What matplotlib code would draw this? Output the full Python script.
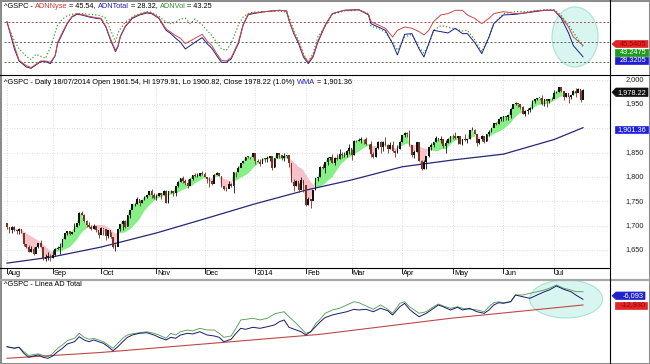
import matplotlib
matplotlib.use("Agg")
import matplotlib.pyplot as plt
from matplotlib.patches import Ellipse, Polygon, Rectangle
from matplotlib.lines import Line2D
import numpy as np
import pandas as pd

W, H = 650, 364
FONT = "Liberation Sans"
FS = 5.3

# ---- S&P 500 daily bars, 06/08/2013 .. 18/07/2014 ----
closes = [
    1697.37, 1690.91, 1697.48, 1691.42, 1689.47, 1694.16, 1685.39, 1661.32, 1655.83, 1646.06,
    1652.35, 1642.80, 1656.96, 1663.50, 1656.78, 1630.48, 1634.96, 1638.17, 1632.97,
    1639.77, 1653.08, 1655.08, 1655.17, 1671.71, 1683.99, 1689.13, 1683.42, 1687.99, 1697.60,
    1704.76, 1725.52, 1722.34, 1709.91, 1701.84, 1697.42, 1692.77, 1698.67, 1691.75, 1681.55,
    1695.00, 1693.87, 1678.66, 1690.50, 1676.12, 1655.45, 1656.40, 1692.56, 1703.20, 1710.14,
    1698.06, 1721.54, 1733.15, 1744.50, 1744.66, 1754.67, 1746.38, 1752.07, 1759.77, 1762.11,
    1771.95, 1763.31, 1756.54,
    1761.64, 1767.93, 1762.97, 1770.49, 1747.15, 1770.61, 1771.89, 1767.69, 1782.00, 1790.62,
    1798.18, 1791.53, 1787.87, 1781.37, 1795.85, 1804.76, 1802.48, 1802.75, 1807.23, 1805.81,
    1800.90, 1795.15, 1792.81, 1785.03, 1805.09, 1808.37, 1802.62, 1782.22, 1775.50, 1775.32,
    1786.54, 1781.00, 1810.65, 1809.60, 1818.32, 1827.99, 1833.32, 1842.02, 1841.40, 1841.07, 1848.36,
    1831.98, 1831.37, 1826.77, 1837.88, 1837.49, 1838.13, 1842.37, 1819.20, 1838.88, 1848.38,
    1845.89, 1838.70, 1843.80, 1844.86, 1828.46, 1790.29, 1781.56, 1792.50, 1774.20, 1794.19, 1782.59,
    1741.89, 1755.20, 1751.64, 1773.43, 1797.02, 1799.84, 1819.75, 1819.26, 1829.83, 1838.63,
    1840.76, 1828.75, 1839.78, 1836.25, 1847.61, 1845.12, 1845.16, 1854.29, 1859.45,
    1845.73, 1873.91, 1873.81, 1877.03, 1878.04, 1877.17, 1867.63, 1868.20, 1846.34, 1841.13,
    1858.83, 1872.25, 1860.77, 1872.01, 1866.52, 1857.44, 1865.62, 1852.56, 1849.04, 1857.62, 1872.34,
    1885.52, 1890.90, 1888.77, 1865.09, 1845.04, 1851.96, 1872.18, 1833.08, 1815.69, 1830.61,
    1842.98, 1862.31, 1864.85, 1871.89, 1879.55, 1875.39, 1878.61, 1863.40, 1869.43, 1878.33, 1883.95,
    1883.68, 1881.14, 1884.66, 1867.72, 1878.21, 1875.63, 1878.48, 1896.65, 1897.45, 1888.53,
    1870.85, 1877.86, 1885.08, 1872.83, 1888.03, 1892.49, 1900.53, 1911.91, 1909.78, 1920.03, 1923.57,
    1924.97, 1924.24, 1927.88, 1940.46, 1949.44, 1951.27, 1950.79, 1943.89, 1930.11, 1936.16,
    1937.78, 1941.99, 1956.98, 1959.48, 1962.87, 1962.61, 1949.98, 1959.53, 1957.22, 1960.96, 1960.23,
    1973.32, 1974.62, 1985.44, 1977.65, 1963.71, 1972.83, 1964.68, 1967.57, 1977.10, 1973.28,
    1981.57, 1958.12, 1978.22,
]
highs = [
    1706, 1696, 1700, 1699, 1691, 1696, 1693, 1679, 1663, 1660,
    1658, 1657, 1659, 1664, 1670, 1652, 1641, 1646, 1641,
    1651, 1655, 1659, 1664, 1672, 1684, 1689, 1689, 1688, 1705,
    1705, 1729, 1730, 1725, 1711, 1708, 1701, 1703, 1697, 1688,
    1697, 1694, 1693, 1691, 1687, 1676, 1662, 1693, 1703, 1711,
    1711, 1721, 1733, 1745, 1747, 1759, 1752, 1753, 1760, 1764,
    1772, 1775, 1768,
    1766, 1768, 1767, 1774, 1774, 1771, 1774, 1772, 1782, 1791,
    1798, 1802, 1795, 1795, 1797, 1805, 1808, 1808, 1808, 1813,
    1811, 1800, 1800, 1793, 1806, 1811, 1808, 1803, 1782, 1780,
    1792, 1788, 1811, 1810, 1823, 1829, 1833, 1842, 1844, 1842, 1849,
    1845, 1838, 1837, 1840, 1840, 1843, 1843, 1843, 1839, 1850,
    1847, 1846, 1849, 1846, 1842, 1826, 1795, 1794, 1788, 1799, 1793,
    1784, 1758, 1755, 1774, 1798, 1800, 1823, 1826, 1830, 1841,
    1842, 1847, 1842, 1847, 1858, 1852, 1852, 1855, 1867,
    1857, 1877, 1876, 1881, 1883, 1878, 1882, 1868, 1874, 1852,
    1862, 1873, 1874, 1873, 1883, 1867, 1871, 1875, 1855, 1866, 1873,
    1886, 1893, 1893, 1897, 1864, 1855, 1872, 1872, 1835, 1834,
    1844, 1862, 1869, 1872, 1884, 1879, 1884, 1877, 1877, 1880, 1884,
    1888, 1892, 1885, 1884, 1879, 1889, 1879, 1897, 1903, 1898,
    1888, 1878, 1886, 1884, 1888, 1896, 1901, 1912, 1914, 1920, 1924,
    1925, 1925, 1928, 1941, 1950, 1955, 1951, 1950, 1945, 1938,
    1941, 1944, 1958, 1960, 1963, 1963, 1968, 1960, 1959, 1961, 1964,
    1978, 1976, 1985, 1984, 1976, 1973, 1967, 1968, 1979, 1982,
    1983, 1979, 1979.91,
]
lows = [
    1693, 1684, 1684, 1689, 1683, 1682, 1685, 1658, 1655, 1646,
    1646, 1640, 1645, 1654, 1656, 1630, 1627, 1630, 1627,
    1633, 1637, 1653, 1641, 1656, 1673, 1681, 1681, 1682, 1693,
    1697, 1701, 1721, 1708, 1697, 1695, 1691, 1693, 1688, 1674,
    1682, 1680, 1670, 1675, 1675, 1655, 1647, 1660, 1689, 1692,
    1695, 1700, 1716, 1734, 1740, 1745, 1740, 1746, 1752, 1757,
    1764, 1757, 1755,
    1752, 1761, 1755, 1764, 1747, 1746, 1767, 1761, 1760, 1780,
    1790, 1788, 1784, 1778, 1784, 1794, 1800, 1800, 1802, 1805,
    1799, 1787, 1779, 1783, 1788, 1806, 1802, 1780, 1773, 1772,
    1777, 1779, 1767, 1801, 1810, 1822, 1828, 1834, 1839, 1838, 1842,
    1827, 1830, 1823, 1828, 1831, 1830, 1832, 1815, 1820, 1839,
    1840, 1835, 1832, 1840, 1820, 1790, 1772, 1782, 1770, 1777, 1770,
    1740, 1743, 1737, 1753, 1774, 1791, 1800, 1816, 1809, 1825,
    1835, 1828, 1825, 1835, 1836, 1840, 1841, 1841, 1847,
    1834, 1846, 1871, 1874, 1870, 1867, 1866, 1858, 1841, 1839,
    1842, 1858, 1850, 1854, 1863, 1849, 1858, 1852, 1842, 1849, 1858,
    1872, 1883, 1883, 1863, 1841, 1839, 1852, 1833, 1814, 1816,
    1816, 1842, 1856, 1861, 1872, 1875, 1870, 1859, 1850, 1870, 1872,
    1878, 1879, 1867, 1867, 1866, 1873, 1869, 1879, 1896, 1888,
    1863, 1867, 1873, 1869, 1875, 1885, 1893, 1902, 1907, 1909, 1916,
    1915, 1918, 1918, 1922, 1941, 1948, 1944, 1939, 1929, 1925,
    1930, 1933, 1940, 1952, 1959, 1958, 1948, 1946, 1944, 1952, 1958,
    1962, 1972, 1975, 1974, 1959, 1965, 1952, 1960, 1969, 1965,
    1976, 1955, 1960.82,
]
first_open = 1706.10
ma_len = 12   # average the shaded band is drawn against

month_labels = ["Aug", "Sep", "Oct", "Nov", "Dec", "2014", "Feb", "Mar", "Apr", "May", "Jun", "Jul"]
month_idx = [0, 19, 39, 62, 82, 103, 124, 143, 164, 185, 206, 227]
grid_prices = [2000, 1950, 1900, 1850, 1800, 1750, 1700, 1650]
label_prices = [2000, 1950, 1850, 1800, 1750, 1700, 1650]

# WMA line
wma_idx = [0, 19, 39, 62, 82, 103, 124, 143, 164, 185, 206, 227, 239]
wma_val = [1623, 1636, 1656, 1685, 1714, 1745, 1773, 1794, 1821, 1835, 1847, 1877, 1901.36]

# ---- oscillators (top panel) ----
osc_idx = [0, 3, 5, 8, 10, 12, 14, 16, 18, 20, 21, 23, 25, 27, 29, 31, 34, 37, 39, 41,
           43, 45, 46, 47, 49, 52, 55, 58, 60, 63, 66, 68, 70, 72, 74, 76, 78, 81, 83, 85,
           87, 89, 91, 93, 96, 98, 100, 102, 107, 113, 116, 117, 119, 121, 123, 125, 127, 129, 132, 135,
           140, 146, 150, 151, 154, 157, 160, 162, 165, 168, 171, 173, 175, 177, 180, 183, 186, 189, 191, 194,
           197, 200, 202, 206, 211, 215, 219, 223, 227, 230, 233, 235, 239]
adn_nyse = [80, 45, 23, 15, 12, 17, 22, 22, 20, 30, 50, 65, 79, 89, 93, 92, 89, 87, 86, 74,
            55, 38, 44, 59, 74, 87, 92, 95, 94, 87, 70, 65, 60, 56, 48, 52, 56, 62, 52, 45,
            33, 23, 22, 27, 50, 77, 92, 94, 96, 98, 97, 84, 64, 50, 30, 20, 30, 52, 76, 93,
            98, 99, 92, 81, 76, 71, 58, 68, 73, 71, 66, 61, 68, 81, 91, 93, 98, 98, 91, 86,
            78, 86, 93, 96, 93, 94, 97, 98, 98, 88, 73, 58, 45.54]
adn_total = [81, 41, 22, 13, 11, 16, 21, 21, 18, 30, 48, 63, 78, 88, 92, 91, 88, 86, 85, 73,
             53, 36, 43, 58, 73, 86, 91, 94, 93, 86, 68, 63, 56, 50, 40, 45, 50, 57, 48, 41,
             30, 20, 20, 25, 48, 76, 91, 93, 96, 98, 97, 83, 63, 48, 28, 18, 28, 50, 75, 93,
             98, 99, 91, 78, 73, 68, 48, 31, 62, 63, 40, 28, 48, 68, 66, 64, 71, 63, 63, 50,
             33, 58, 78, 91, 92, 94, 96, 98, 98, 86, 64, 45, 28.32]
adn_vol = [78, 53, 40, 29, 24, 32, 29, 26, 42, 65, 76, 85, 90, 92, 93, 93, 92, 91, 90, 86,
           68, 51, 63, 70, 80, 88, 93, 96, 95, 89, 80, 78, 80, 85, 86, 78, 85, 76, 68, 60,
           50, 40, 38, 48, 76, 88, 93, 95, 96, 97, 95, 88, 68, 53, 33, 21, 33, 58, 74, 92,
           97, 98, 93, 74, 71, 65, 50, 38, 58, 62, 42, 34, 46, 68, 75, 73, 70, 67, 68, 54,
           36, 58, 78, 93, 96, 96, 97, 99, 99, 90, 76, 65, 43.25]

# ---- AD lines (bottom panel), thousands ----
ad_idx = [0, 3, 5, 7, 9, 11, 13, 15, 17, 19, 21, 23, 25, 28, 30, 32, 34, 36, 38, 40,
          42, 44, 46, 48, 50, 52, 55, 58, 61, 63, 66, 68, 70, 72, 75, 77, 80, 83, 86, 88,
          90, 93, 95, 97, 99, 102, 105, 108, 111, 113, 115, 117, 120, 122, 124, 126, 128, 130, 132, 135,
          138, 141, 144, 146, 149, 152, 155, 158, 160, 163, 165, 167, 169, 171, 174, 177, 179, 181, 184, 187,
          189, 192, 195, 198, 200, 202, 204, 206, 209, 211, 214, 217, 220, 223, 225, 228, 231, 234, 236, 239]
ad_total = [-63.0, -64.9, -63.7, -70.9, -75.7, -74.1, -72.9, -75.7, -76.9, -74.1,
            -69.0, -64.9, -59.7, -57.0, -51.0, -54.9, -57.0, -54.9, -57.0, -58.9,
            -63.0, -67.8, -63.0, -57.0, -51.7, -48.9, -46.9, -46.2, -48.9, -51.7,
            -54.9, -51.7, -52.9, -48.9, -46.9, -47.7, -45.0, -48.9, -50.1, -51.7,
            -57.0, -54.1, -46.9, -40.9, -42.1, -39.7, -40.9, -39.0, -36.9, -33.0,
            -30.9, -39.7, -42.9, -45.0, -48.9, -45.0, -39.0, -33.0, -28.0, -24.9,
            -22.9, -21.0, -18.1, -18.9, -18.1, -21.0, -16.9, -19.8, -24.9, -15.0,
            -10.9, -18.1, -22.9, -27.0, -22.9, -16.9, -12.9, -15.0, -18.9, -15.7,
            -18.9, -16.9, -21.0, -22.9, -18.9, -12.9, -10.2, -10.9, -9.0, -0.9,
            -3.0, -4.9, -0.9, 3.0, 5.1, 9.9, 5.9, 3.0, -0.9, -6.093]
ad_vol = [-63.0, -64.5, -63.5, -69.0, -73.5, -72.5, -71.5, -73.5, -75.0, -71.0,
          -64.9, -60.9, -55.8, -52.9, -46.9, -51.7, -54.1, -53.0, -54.9, -57.0,
          -60.9, -64.9, -58.9, -52.9, -48.9, -47.5, -46.2, -45.0, -46.9, -48.9,
          -52.9, -46.9, -48.9, -45.0, -42.9, -44.1, -40.9, -42.9, -42.9, -46.9,
          -51.7, -50.1, -40.9, -30.9, -30.1, -28.9, -30.9, -28.9, -23.7, -22.2,
          -21.0, -27.0, -34.9, -40.9, -46.9, -45.0, -35.7, -29.9, -22.9, -18.9,
          -16.9, -12.9, -9.0, -10.2, -14.1, -18.1, -12.9, -18.1, -22.9, -10.9,
          -9.0, -15.0, -18.9, -22.9, -21.0, -15.0, -11.7, -14.1, -16.9, -15.0,
          -16.9, -18.1, -18.9, -21.0, -15.0, -10.2, -9.0, -10.2, -9.0, -0.9,
          -0.9, 1.1, 3.0, 5.1, 7.1, 11.1, 7.1, 5.1, 3.0, 3.0]
trend_idx = [0, 39, 88, 130, 184, 239]
trend_val = [-76.9, -69.9, -58.2, -48.1, -28.9, -12.9]

# ---- layout helpers (pixel based) ----
X0, STEP = 7.0, 2.41   # pixel of first bar, pixels per bar


def fx(p):
    return p / W


def fy(p):
    return 1 - p / H


fig = plt.figure(figsize=(W / 100, H / 100), dpi=100)
fig.patch.set_facecolor("white")


def panel(top, bottom):
    ax = fig.add_axes([fx(4), fy(bottom), fx(610) - fx(4), (bottom - top) / H])
    ax.set_xlim((4 - X0) / STEP, (610 - X0) / STEP)
    for s in ax.spines.values():
        s.set_visible(False)
    ax.set_xticks([])
    ax.set_yticks([])
    ax.patch.set_alpha(0)
    return ax


def hline(y, x0=0, x1=W, color="black", lw=0.8):
    fig.add_artist(Line2D([fx(x0), fx(x1)], [fy(y), fy(y)], color=color, lw=lw,
                          transform=fig.transFigure))


def vline(x, y0=0, y1=H, color="black", lw=0.8):
    fig.add_artist(Line2D([fx(x), fx(x)], [fy(y0), fy(y1)], color=color, lw=lw,
                          transform=fig.transFigure))


def header(xp, yp, parts):
    r = fig.canvas.get_renderer()
    x = xp
    for s, c in parts:
        t = fig.text(fx(x), fy(yp), s, color=c, fontsize=FS, family=FONT, ha="left", va="center")
        x += t.get_window_extent(renderer=r).width


def tag(x0, x1, y0, y1, face, txt, tcolor, arrow=False):
    ym = (y0 + y1) / 2
    if arrow:
        pts = [(x0 - 4, ym), (x0, y0), (x1, y0), (x1, y1), (x0, y1)]
    else:
        pts = [(x0, y0), (x1, y0), (x1, y1), (x0, y1)]
    fig.add_artist(Polygon([(fx(a), fy(b)) for a, b in pts], closed=True, transform=fig.transFigure,
                           facecolor=face, edgecolor=face, lw=0.5, zorder=5))
    fig.text(fx(x1 - 1.5), fy(ym), txt, color=tcolor, fontsize=FS, family=FONT,
             ha="right", va="center", zorder=6)


# ---- top panel: oscillators ----
ax_top = panel(2, 74.5)
ax_top.set_ylim(50 - (74.5 - 42.3) * 1.5, 50 + (42.3 - 2) * 1.5)
ax_top.add_patch(Ellipse((235.7, 58), 19.1, 90, facecolor="#d9f5f0", edgecolor="#a9e2d9", lw=0.8, zorder=0))
ax_top.axhline(80, color="#b04848", ls=(0, (2, 2)), lw=0.7)
ax_top.axhline(50, color="#606060", ls=(0, (2, 2)), lw=0.7)
ax_top.axhline(20, color="#5a705a", ls=(0, (2, 2)), lw=0.7)
ax_top.plot(osc_idx, adn_vol, color="#3c9a3c", ls=":", lw=0.9)
ax_top.plot(osc_idx, adn_total, color="#1c1c8c", lw=0.7)
ax_top.plot(osc_idx, adn_nyse, color="#d04848", lw=0.7)

# ---- main panel: candles ----
ax_main = panel(75.5, 268)
ax_main.set_ylim(1650 - (268 - 250) * 2.055, 1650 + (250 - 75.5) * 2.055)
for p in grid_prices:
    ax_main.axhline(p, color="#d4d4d4", ls=(0, (1, 2)), lw=0.6, zorder=0)
for m in month_idx:
    ax_main.axvline(m, color="#d4d4d4", ls=(0, (1, 2)), lw=0.6, zorder=0)

c = np.array(closes)
o = np.r_[first_open, c[:-1]]
xi = np.arange(len(c))
ma = pd.Series(c).rolling(ma_len, min_periods=1).mean().to_numpy()
ax_main.fill_between(xi, c, ma, where=c >= ma, interpolate=True, color="#86f086", lw=0, zorder=1)
ax_main.fill_between(xi, c, ma, where=c < ma, interpolate=True, color="#f5c2ca", lw=0, zorder=1)
ax_main.plot(wma_idx, wma_val, color="#26267a", lw=0.9, zorder=2)

up = c >= o
cols = np.where(up, "#111111", "#7a3222")
ax_main.vlines(xi, lows, highs, colors=cols, lw=0.6, zorder=3)
body_lo = np.minimum(o, c)
body_h = np.maximum(np.abs(c - o), 0.8)
ax_main.bar(xi, body_h, bottom=body_lo, width=0.72, color=cols, lw=0, zorder=4)

# ---- bottom panel: AD lines ----
ax_bot = panel(280.5, 362)
ax_bot.set_ylim(-6.093 - 1.2 * (362 - 299.3), -6.093 + 1.2 * (299.3 - 280.5))
ax_bot.add_patch(Ellipse((232, -5.7), 30.3, 45.6, facecolor="#d9f5f0", edgecolor="#a9e2d9", lw=0.8, zorder=0))
ax_bot.plot(trend_idx, trend_val, color="#c04848", lw=0.8)
ax_bot.plot(ad_idx, ad_vol, color="#4a9a4a", lw=0.6)
ax_bot.plot(ad_idx, ad_total, color="#1a1a70", lw=0.7)

# ---- frame lines ----
hline(74.5)
hline(268, 0, 610)
hline(279.5, color="#a8a8a8", lw=1.6)
vline(610)
fig.add_artist(Rectangle((0, 0), 1, 1, transform=fig.transFigure, fill=False, edgecolor="#8c8c8c", lw=2.2))

# x axis labels
for lab, m in zip(month_labels, month_idx):
    xp = X0 + STEP * m
    fig.add_artist(Line2D([fx(xp), fx(xp)], [fy(268), fy(272.5)], color="black", lw=0.6,
                          transform=fig.transFigure))
    fig.text(fx(xp + 1.2), fy(273.5), lab, fontsize=FS, family=FONT, ha="left", va="center")

# right price scale (1,900 sits under the WMA tag)
for p in label_prices:
    yp = 250 - (p - 1650) / 2.055
    fig.text(fx(644), fy(yp), f"{p:,}", fontsize=FS, family=FONT, ha="right", va="center", color="#222222")

# headers
header(4, 6, [("^GSPC - ", "black"), ("ADNNyse", "#d03030"), (" = 45.54, ", "black"),
              ("ADNTotal", "#2020b0"), (" = 28.32, ", "black"), ("ADNVol", "#2f8f2f"), (" = 43.25", "black")])
header(4, 82, [("^GSPC - Daily 18/07/2014 Open 1961.54, Hi 1979.91, Lo 1960.82, Close 1978.22 (1.0%) ", "black"),
               ("WMA", "#2020c0"), (" = 1,901.36", "black")])
header(4, 284.5, [("^GSPC - Linea AD Total", "black")])

# value tags
tag(616, 648, 40.5, 47.5, "#e02626", "45.5405", "#a00000", arrow=True)
tag(615, 648, 48.5, 55.5, "#1f9a1f", "43.2475", "white")
tag(615, 648, 56.5, 63.5, "#1f1fd0", "28.3205", "white")
tag(616, 648, 88, 96.5, "#111111", "1,978.22", "white", arrow=True)
tag(615, 648, 125.5, 133, "#2020e0", "1,901.36", "white")
tag(616, 645, 292, 299.5, "#2222cc", "-6,093", "white", arrow=True)
tag(615, 647, 301.5, 308.5, "#e02626", "-12,930", "#a00000")

fig.savefig("out.png", dpi=100)
